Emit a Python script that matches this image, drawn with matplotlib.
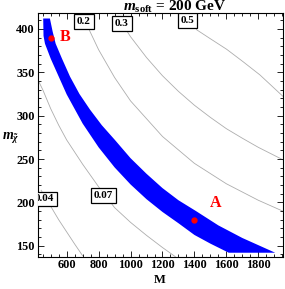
import matplotlib
matplotlib.use("Agg")
import matplotlib.pyplot as plt
from matplotlib.ticker import MultipleLocator

plt.rcParams['font.family'] = ['Liberation Serif', 'DejaVu Serif']
plt.rcParams['mathtext.fontset'] = 'custom'
plt.rcParams['mathtext.rm'] = 'Liberation Serif:bold'
plt.rcParams['mathtext.it'] = 'Liberation Serif:italic:bold'
plt.rcParams['mathtext.bf'] = 'Liberation Serif:bold'

# band edges (M, m_chi)
band_low_M = [453, 455, 464, 500, 600, 700, 800, 900, 1000, 1100, 1200, 1300, 1400, 1500, 1615]
band_low_m = [412, 392, 383, 365.7, 324.5, 290.9, 263.5, 240.4, 220.7, 203.7, 189, 176, 162.5, 152.5, 142]
band_up_M = [495, 512, 531, 570, 621, 680, 746, 820, 902, 1000, 1100, 1200, 1300, 1410, 1550, 1700, 1906]
band_up_m = [412, 397, 383, 366, 345, 325, 307, 289, 272, 251, 233, 216.5, 202.5, 190, 173.5, 159, 142]

# contour lines
c004_M = [440, 469, 500, 550, 600, 650, 700]
c004_m = [214, 205, 195.5, 180, 166, 152, 138.5]
c007_M = [418, 450, 500, 550, 600, 700, 800, 900, 1000, 1100, 1200, 1280]
c007_m = [342, 330, 308, 289, 272, 244, 218, 194, 177, 162, 148, 137.5]
c02_M = [700, 746, 800, 900, 1000, 1200, 1400, 1600, 1800, 1953]
c02_m = [418, 397, 376, 344, 317, 276, 245, 221.5, 202.5, 190]
c03_M = [920, 1000, 1100, 1200, 1300, 1400, 1500, 1600, 1700, 1800, 1956]
c03_m = [414, 391, 367, 346, 328, 312, 298, 285, 274, 263.5, 249]
c05_M = [1360, 1414, 1497, 1602, 1706, 1810, 1956]
c05_m = [418, 399, 389, 376.5, 362, 347, 322]

contour_labels = ["0.04", "0.07", "0.2", "0.3", "0.5"]
label_M = [460, 832, 708, 946, 1356]
label_m = [204, 208, 408.5, 406.5, 409.5]

points = {"A": (1400, 180), "B": (500, 390)}
point_text = {"A": (1530, 199), "B": (590, 391)}

fig = plt.figure(figsize=(2.85, 2.89), dpi=100)
ax = fig.add_axes([0.132, 0.112, 0.860, 0.842])

ax.fill(band_up_M + band_low_M[::-1], band_up_m + band_low_m[::-1],
        color='#0000ff', lw=0, zorder=2)

for xs, ys in [(c004_M, c004_m), (c007_M, c007_m), (c02_M, c02_m),
               (c03_M, c03_m), (c05_M, c05_m)]:
    ax.plot(xs, ys, color='#adadad', lw=0.6, zorder=1)

for lab, x, y in zip(contour_labels, label_M, label_m):
    ax.text(x, y, lab, ha='center', va='center', fontsize=8, fontweight='bold',
            bbox=dict(boxstyle='square,pad=0.25', fc='white', ec='black', lw=0.9),
            zorder=3, clip_on=True)

for k, (x, y) in points.items():
    ax.plot(x, y, 'o', color='#ff0000', ms=3.5, zorder=4)
    tx, ty = point_text[k]
    ax.text(tx, ty, k, color='#ff0000', fontsize=11.5, fontweight='bold',
            ha='center', va='center', zorder=4)

ax.set_xlim(418, 1953)
ax.set_ylim(137.5, 418)
ax.xaxis.set_major_locator(MultipleLocator(200))
ax.xaxis.set_minor_locator(MultipleLocator(50))
ax.yaxis.set_major_locator(MultipleLocator(50))
ax.yaxis.set_minor_locator(MultipleLocator(10))
ax.tick_params(which='both', direction='in', top=True, right=True, width=0.6)
ax.tick_params(which='major', length=4, labelsize=8.8, pad=2)
ax.tick_params(which='minor', length=2)
for lbl in ax.get_xticklabels() + ax.get_yticklabels():
    lbl.set_fontweight('bold')
for sp in ax.spines.values():
    sp.set_linewidth(0.8)

ax.set_xlabel("M", fontsize=9, fontweight='bold', va='center')
ax.xaxis.set_label_coords(0.5, -0.098)
ax.set_ylabel(r"$m_{\tilde{\chi}}$", fontsize=10, rotation=0, va='center')
ax.yaxis.set_label_coords(-0.11, 0.49)

fig.text(175 / 285, 1 - 10.5 / 289, r"$m_{\rm soft}$ = 200 GeV", fontsize=11,
         fontweight='bold', ha='center', va='baseline')

fig.savefig("out.png", dpi=100)
